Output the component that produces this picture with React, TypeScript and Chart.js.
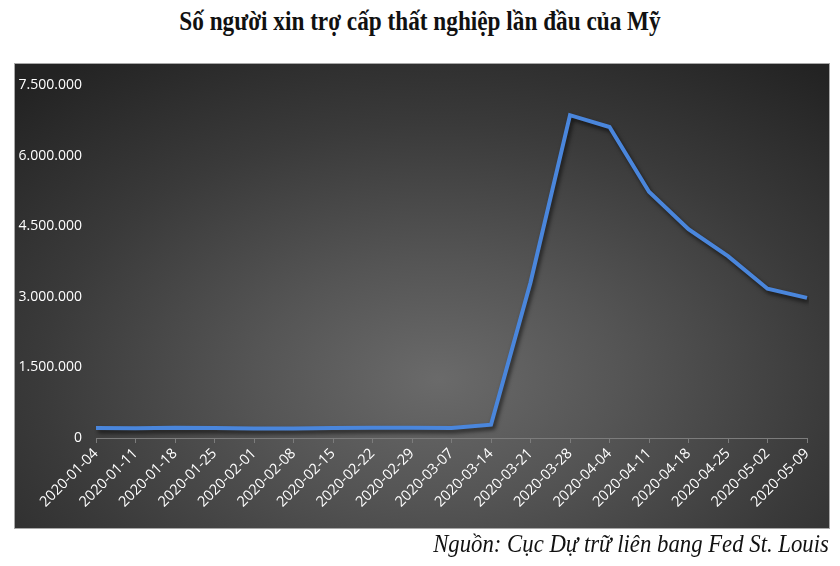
import React, { useEffect, useRef } from "react";
import { Chart, registerables } from "chart.js";

Chart.register(...registerables);

const TITLE = "Số người xin trợ cấp thất nghiệp lần đầu của Mỹ";
const SOURCE = "Nguồn: Cục Dự trữ liên bang Fed St. Louis";

const weeks = [
  "2020-01-04", "2020-01-11", "2020-01-18", "2020-01-25", "2020-02-01",
  "2020-02-08", "2020-02-15", "2020-02-22", "2020-02-29", "2020-03-07",
  "2020-03-14", "2020-03-21", "2020-03-28", "2020-04-04", "2020-04-11",
  "2020-04-18", "2020-04-25", "2020-05-02", "2020-05-09",
];

const claims = [
  212000, 207000, 220000, 214000, 201000,
  204000, 211000, 217000, 216000, 211000,
  282000, 3307000, 6867000, 6615000, 5237000,
  4442000, 3867000, 3176000, 2981000,
];

const yMin = 0;
const yMax = 7500000;
const yStep = 1500000;

const fmt = (v: number) =>
  String(Math.round(v)).replace(/\B(?=(\d{3})+(?!\d))/g, ".");

const shadowPlugin = {
  id: "lineShadow",
  beforeDatasetsDraw(chart: any) {
    const ctx = chart.ctx;
    ctx.save();
    ctx.shadowColor = "rgba(0,0,0,0.65)";
    ctx.shadowBlur = 4;
    ctx.shadowOffsetX = 2;
    ctx.shadowOffsetY = 3;
  },
  afterDatasetsDraw(chart: any) {
    chart.ctx.restore();
  },
};

export default function App() {
  const canvasRef = useRef<HTMLCanvasElement | null>(null);

  useEffect(() => {
    if (!canvasRef.current) return;
    const chart = new Chart(canvasRef.current, {
      type: "line",
      data: {
        labels: weeks,
        datasets: [
          {
            data: claims,
            borderColor: "#4a86dc",
            borderWidth: 4,
            pointRadius: 0,
            tension: 0,
            fill: false,
            borderJoinStyle: "miter",
          },
        ],
      },
      options: {
        responsive: false,
        animation: false,
        layout: { padding: { left: 0, right: 23, top: 18, bottom: 0 } },
        plugins: {
          legend: { display: false },
          tooltip: { enabled: false },
          title: { display: false },
        },
        scales: {
          x: {
            offset: false,
            grid: {
              display: true,
              drawOnChartArea: false,
              drawTicks: true,
              tickLength: 5,
              color: "#7c7c7c",
            },
            border: { display: true, color: "#7c7c7c", width: 1 },
            ticks: {
              color: "#ffffff",
              font: { family: "'Open Sans', sans-serif", size: 14.5 },
              minRotation: 45,
              maxRotation: 45,
              autoSkip: false,
              padding: 2,
            },
            afterFit(scale: any) {
              scale.height = 91;
            },
          },
          y: {
            min: yMin,
            max: yMax,
            grid: { display: false, drawTicks: false },
            border: { display: false },
            ticks: {
              stepSize: yStep,
              color: "#ffffff",
              font: { family: "'Open Sans', sans-serif", size: 14 },
              padding: 14,
              callback: (v: any) => fmt(Number(v)),
            },
            afterFit(scale: any) {
              scale.width = 82;
            },
          },
        },
      },
      plugins: [shadowPlugin],
    });
    return () => chart.destroy();
  }, []);

  return (
    <div
      style={{
        position: "fixed",
        left: 0,
        top: 0,
        width: 840,
        height: 566,
        background: "#ffffff",
        overflow: "hidden",
      }}
    >
      <div
        style={{
          position: "absolute",
          left: 0,
          top: 3,
          width: 840,
          textAlign: "center",
          fontFamily: "'Liberation Serif', 'Times New Roman', serif",
          fontWeight: "bold",
          fontSize: 28,
          lineHeight: "36px",
          color: "#111",
          transform: "scaleX(0.83)",
          transformOrigin: "50% 50%",
          whiteSpace: "nowrap",
        }}
      >
        {TITLE}
      </div>
      <div
        style={{
          position: "absolute",
          left: 14,
          top: 63,
          width: 816,
          height: 466,
          boxSizing: "border-box",
          border: "1px solid #a8a8a8",
          background:
            "radial-gradient(ellipse 75% 85% at 52% 68%, #6a6a6a 0%, #555555 30%, #3a3a3a 65%, #232323 100%)",
        }}
      >
        <canvas
          ref={canvasRef}
          width={816}
          height={466}
          style={{ position: "absolute", left: -1, top: -1, width: 816, height: 466 }}
        />
      </div>
      <div
        style={{
          position: "absolute",
          right: 11,
          top: 528,
          fontFamily: "'Liberation Serif', 'Times New Roman', serif",
          fontStyle: "italic",
          fontSize: 25,
          lineHeight: "32px",
          color: "#111",
          whiteSpace: "nowrap",
          transform: "scaleX(0.91)",
          transformOrigin: "100% 50%",
        }}
      >
        {SOURCE}
      </div>
    </div>
  );
}
